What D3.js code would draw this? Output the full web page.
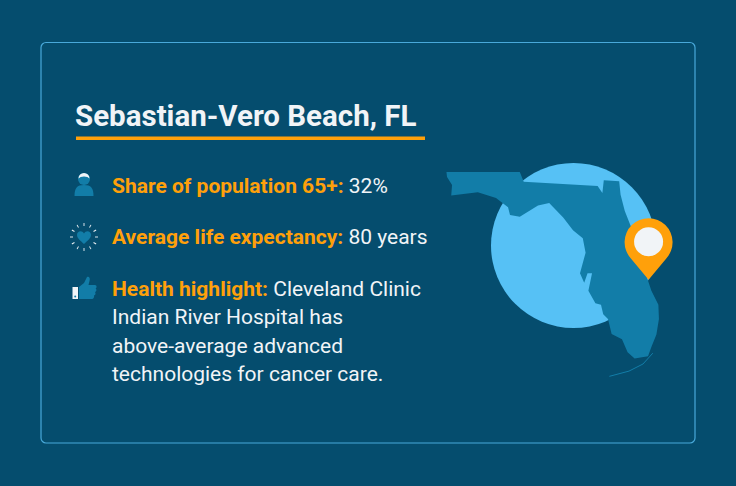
<!DOCTYPE html>
<html>
<head>
<meta charset="utf-8">
<script src="https://cdn.jsdelivr.net/npm/d3@7"></script>
<style>
  html, body { margin: 0; padding: 0; background: #054d6e; }
  svg { display: block; }
  text { font-family: Roboto, sans-serif; }
</style>
</head>
<body>
<svg id="chart"></svg>
<script>
const title = 'Sebastian-Vero Beach, FL';

// one entry per line of text: bold label + regular value
const rowLabels = ['Share of population 65+:', 'Average life expectancy:', 'Health highlight:', '', '', ''];
const rowValues = ['32%', '80 years', 'Cleveland Clinic', 'Indian River Hospital has', 'above-average advanced', 'technologies for cancer care.'];
const rowBaselines = [193, 244, 296, 323.5, 353, 381];

// Florida outline, lon/lat, clockwise from the north-west corner
const floridaOutline = [
  [-87.62, 31.0], [-85.0, 31.0], [-84.86, 30.7], [-82.22, 30.57], [-82.05, 30.36], [-82.0, 30.75],
  [-81.45, 30.72], [-81.4, 30.3], [-81.25, 29.8], [-81.0, 29.25], [-80.7, 28.75], [-80.55, 28.45],
  [-80.6, 28.1], [-80.3, 27.3], [-80.05, 26.85], [-80.03, 26.4], [-80.12, 25.9], [-80.3, 25.5],
  [-80.42, 25.2], [-80.9, 25.13], [-81.15, 25.33], [-81.35, 25.75], [-81.72, 25.92], [-81.85, 26.4],
  [-82.02, 26.55], [-82.1, 26.85], [-82.3, 26.9], [-82.55, 27.3], [-82.42, 27.85], [-82.58, 27.85],
  [-82.7, 27.55], [-82.85, 27.85], [-82.65, 28.5], [-82.75, 28.95], [-83.1, 29.2], [-83.45, 29.6],
  [-83.95, 30.05], [-84.35, 29.97], [-85.0, 29.62], [-85.35, 29.68], [-85.42, 29.92], [-85.85, 30.2],
  [-86.5, 30.38], [-87.45, 30.28], [-87.42, 30.6], [-87.6, 30.85]
];
const floridaKeys = [[-80.25, 25.3], [-80.6, 24.95], [-81.1, 24.72], [-81.8, 24.55]];
const pinLocation = [-80.4, 27.65];

const colors = {
  background: '#054d6e', frame: '#49a9da', land: '#127da8', disc: '#56c1f5',
  orange: '#ffa00a', white: '#f1f4f7'
};

const width = 736;
const height = 486;

const svg = d3.select('#chart').attr('width', width).attr('height', height);
svg.append('rect').attr('width', width).attr('height', height).attr('fill', colors.background);

svg.append('rect')
  .attr('x', 41).attr('y', 42.5).attr('width', 654).attr('height', 400.5).attr('rx', 5)
  .attr('fill', 'none').attr('stroke', colors.frame).attr('stroke-width', 1.2);

// title
svg.append('text').attr('x', 75).attr('y', 126)
  .attr('font-size', 29.5).attr('font-weight', 700).attr('fill', colors.white).text(title);
svg.append('rect').attr('x', 76).attr('y', 136.5).attr('width', 349).attr('height', 3.5).attr('fill', colors.orange);

// text rows
const rows = svg.append('g').selectAll('text').data(rowValues).enter().append('text')
  .attr('x', 112).attr('y', (d, i) => rowBaselines[i]).attr('font-size', 21);
rows.append('tspan').attr('font-weight', 700).attr('fill', colors.orange)
  .text((d, i) => rowLabels[i] ? rowLabels[i] + ' ' : '');
rows.append('tspan').attr('fill', colors.white).text(d => d);

// map
const projection = d3.geoMercator().center([-84, 28]).scale(1604).translate([547.8, 268.6]);
const geoPath = d3.geoPath(projection);

svg.append('circle').attr('cx', 573.5).attr('cy', 245.5).attr('r', 82.5).attr('fill', colors.disc);
svg.append('path')
  .attr('d', geoPath({ type: 'Polygon', coordinates: [[...floridaOutline, floridaOutline[0]]] }))
  .attr('fill', colors.land);
svg.append('path')
  .attr('d', geoPath({ type: 'LineString', coordinates: floridaKeys }))
  .attr('fill', 'none').attr('stroke', colors.land).attr('stroke-width', 1);

// pin
const [pinX, pinY] = projection(pinLocation);
const pin = svg.append('g').attr('transform', `translate(${pinX},${pinY})`);
pin.append('path')
  .attr('d', 'M0,0 L-17.5,-21 A24,24 0 1 1 17.5,-21 Z')
  .attr('fill', colors.orange);
pin.append('circle').attr('cy', -38).attr('r', 14.5).attr('fill', colors.white);

// person icon
const person = svg.append('g').attr('transform', 'translate(84,185)');
person.append('path').attr('d', 'M-9.5,11 C-9.5,3 -7,0 0,0 C7,0 9.5,3 9.5,11 Z').attr('fill', colors.land);
person.append('circle').attr('cy', -6).attr('r', 6).attr('fill', colors.land);
person.append('path').attr('d', 'M-5.5,-6.5 A5.5,5.5 0 0 1 5.5,-6.5 A6,3.5 0 0 0 -5.5,-6.5 Z').attr('fill', colors.white);

// heart icon
const heart = svg.append('g').attr('transform', 'translate(84,237)');
heart.append('path')
  .attr('d', 'M0,7 C-3,4 -7,1.5 -7,-2 C-7,-6 -2,-7 0,-3.5 C2,-7 7,-6 7,-2 C7,1.5 3,4 0,7 Z')
  .attr('fill', colors.land);
heart.selectAll('line').data(d3.range(12)).enter().append('line')
  .attr('transform', d => `rotate(${d * 30})`)
  .attr('y1', -11).attr('y2', -14)
  .attr('stroke', colors.white).attr('stroke-width', 0.9);

// thumb icon
const thumb = svg.append('g').attr('transform', 'translate(84,289)');
thumb.append('path')
  .attr('d', 'M-5,-2 L0,-6 L3,-12 C5,-13 6.5,-11 5.5,-8 L4.5,-4 L11,-4 C13,-4 13,-1 11.5,-0.5 C13,0 12.5,3 11,3 C12,4 11.5,6.5 10,6.5 C10.5,8 9.5,10 8,10 L-5,10 Z')
  .attr('fill', colors.land);
thumb.append('rect').attr('x', -11.5).attr('y', -2).attr('width', 5.5).attr('height', 12).attr('fill', colors.white);
thumb.append('circle').attr('cx', -8.8).attr('cy', 7.5).attr('r', 1).attr('fill', colors.land);
</script>
</body>
</html>
